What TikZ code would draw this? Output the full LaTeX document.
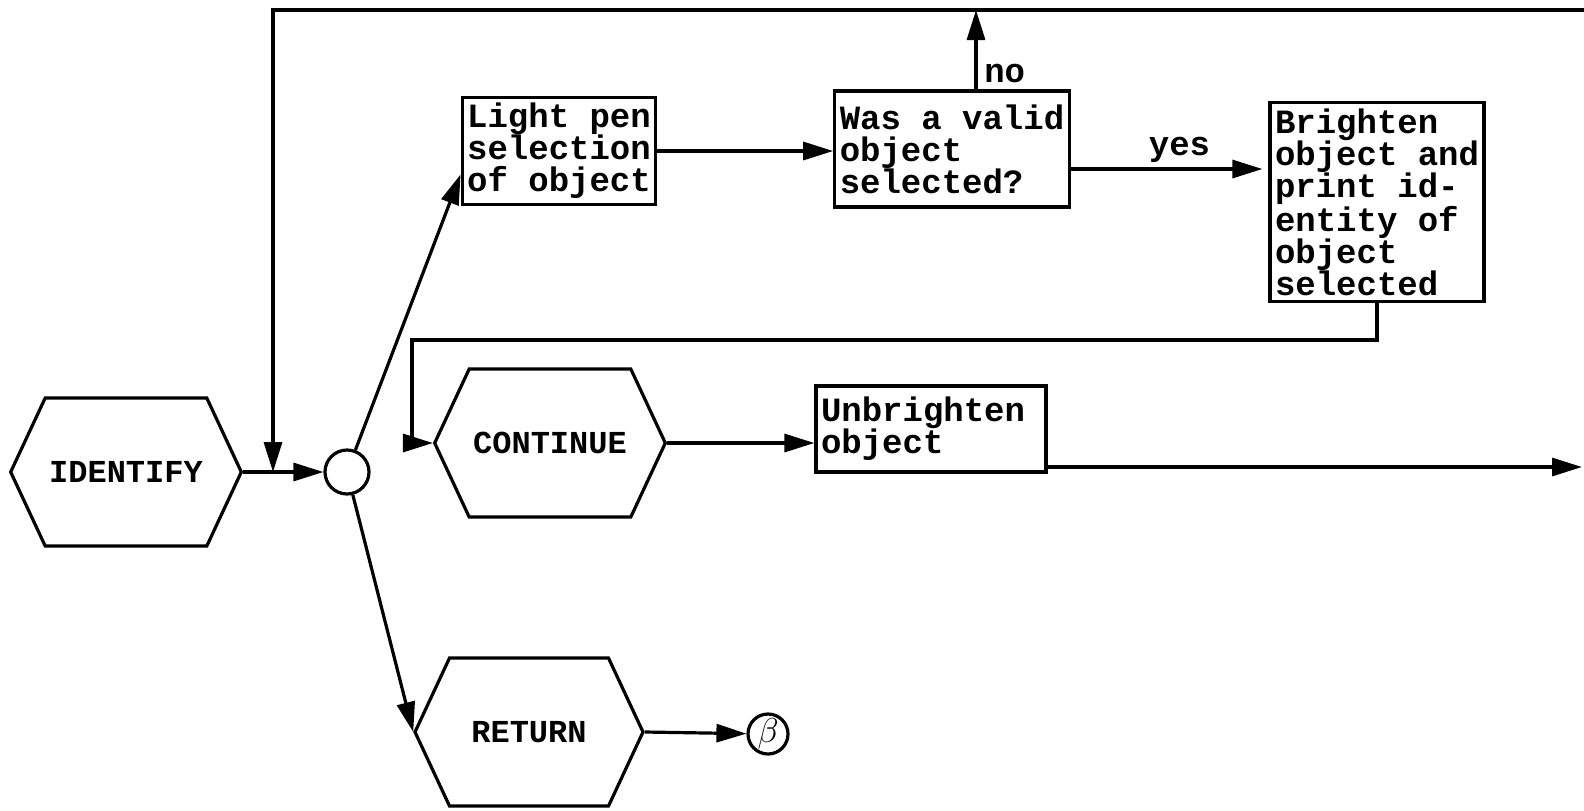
\documentclass[tikz,border=0pt]{standalone}
\usepackage{fontspec}
\setmonofont{Liberation Mono}
\usetikzlibrary{arrows.meta,shapes.symbols}

\begin{document}
\begin{tikzpicture}[x=0.5pt,y=-0.5pt,line width=1.6pt,
  every node/.style={font=\ttfamily\bfseries\fontsize{17}{16}\selectfont},
  procbox/.style={draw,align=left,inner xsep=2.5pt,inner ysep=3pt},
  hexbox/.style={draw,signal,signal to=west and east,signal pointer angle=130,
    minimum width=114pt,minimum height=74pt,inner xsep=2pt,
    font=\ttfamily\bfseries\fontsize{16}{16}\selectfont},
  flow/.style={-{Triangle[length=15pt,width=9pt]}}]
\useasboundingbox (0,0) rectangle (1584,810);
\node[hexbox] (identify) at (126,472) {IDENTIFY};
\node[draw,circle,minimum size=22pt,inner sep=0pt] (junc) at (347,472) {};
\node[procbox] (lightpen) at (559,151) {Light pen\\selection\\of object};
\node[procbox,minimum height=58pt] (valid) at (952,149) {Was a valid\\object\\selected?};
\node[procbox] (brighten) at (1377,202) {Brighten\\object and\\print id-\\entity of\\object\\selected};
\node[hexbox] (continue) at (550,443) {CONTINUE};
\node[procbox,text width=110pt,minimum height=43pt] (unbright) at (931,429) {Unbrighten\\object};
\node[hexbox] (return) at (529,732) {RETURN};
\node[draw,circle,minimum size=20pt,inner sep=0pt,font=\LARGE] (conB) at (768,734) {$\beta$};
\coordinate (topL) at (273,10);
\coordinate (topR) at (1584,10);
\coordinate (loopL) at (412,340);
\coordinate (outR) at (1582,467);
\draw[flow] (identify.east) -- (junc);
\draw[flow] (topR) -- (topL) -- (topL |- identify.east);
\draw[flow] (junc) -- ([yshift=16pt]lightpen.south west);
\draw[flow] (lightpen.east) -- (lightpen.east -| valid.west);
\draw[flow] ([xshift=12pt]valid.north) -- ([xshift=12pt]valid.north |- topR)
  node[pos=0.2,right] {no};
\draw[flow,shorten >=3pt] ([yshift=-10pt]valid.east) -- ([yshift=-10pt]valid.east -| brighten.west)
  node[pos=0.55,above=-1pt] {yes};
\draw[flow] (brighten.south) |- (loopL) |- (continue.west);
\draw[flow] (continue.east) -- (continue.east -| unbright.west);
\draw[flow] (unbright.east |- outR) -- (outR);
\draw[flow] (junc) -- (return.west);
\draw[flow] (return.east) -- (conB);
\end{tikzpicture}
\end{document}
